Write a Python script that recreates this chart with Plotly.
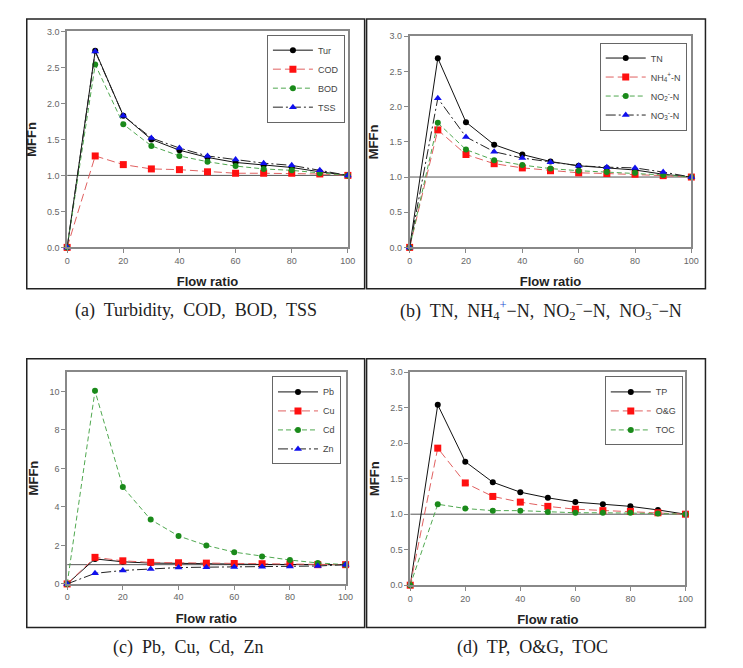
import plotly.graph_objects as go

# page body has an 8px default margin, so the figure is offset by 8px
OFF = 8
W, H = 743 - OFF, 668 - OFF


def fx(px):
    return (px - OFF) / W


def fy(py):
    return 1 - (py - OFF) / H


flow = [0, 10, 20, 30, 40, 50, 60, 70, 80, 90, 100]

# (a)
tur = [0, 2.73, 1.83, 1.50, 1.35, 1.25, 1.18, 1.14, 1.11, 1.05, 1.0]
cod = [0, 1.27, 1.15, 1.09, 1.08, 1.05, 1.03, 1.03, 1.03, 1.02, 1.0]
bod = [0, 2.54, 1.71, 1.41, 1.27, 1.19, 1.13, 1.09, 1.07, 1.03, 1.0]
tss = [0, 2.72, 1.83, 1.52, 1.38, 1.27, 1.22, 1.17, 1.14, 1.07, 1.0]
# (b)
tn = [0, 2.69, 1.78, 1.46, 1.32, 1.22, 1.16, 1.13, 1.10, 1.04, 1.0]
nh4 = [0, 1.67, 1.32, 1.19, 1.13, 1.09, 1.06, 1.05, 1.04, 1.02, 1.0]
no2 = [0, 1.77, 1.39, 1.24, 1.17, 1.12, 1.09, 1.07, 1.06, 1.03, 1.0]
no3 = [0, 2.12, 1.57, 1.36, 1.27, 1.21, 1.16, 1.14, 1.13, 1.07, 1.0]
# (c)
pb = [0, 1.30, 1.15, 1.08, 1.07, 1.04, 1.02, 1.01, 1.01, 1.0, 1.0]
cu = [0, 1.38, 1.20, 1.12, 1.10, 1.08, 1.06, 1.05, 1.04, 1.0, 1.0]
cd = [0, 10.03, 5.03, 3.34, 2.49, 2.0, 1.65, 1.43, 1.24, 1.09, 1.0]
zn = [0, 0.55, 0.70, 0.77, 0.85, 0.87, 0.88, 0.89, 0.90, 0.93, 1.0]
# (d)
tp = [0, 2.54, 1.74, 1.45, 1.31, 1.23, 1.17, 1.14, 1.11, 1.06, 1.0]
og = [0, 1.93, 1.44, 1.25, 1.17, 1.11, 1.07, 1.05, 1.04, 1.02, 1.0]
toc = [0, 1.14, 1.08, 1.05, 1.05, 1.03, 1.02, 1.02, 1.02, 1.01, 1.0]

x_ticks = [0, 20, 40, 60, 80, 100]

captions = [
    "(a)  Turbidity,  COD,  BOD,  TSS",
    "(b)  TN,  NH<sub>4</sub><sup><span style='color:#1f4fd0'>+</span></sup>−N,  NO<sub>2</sub><sup>−</sup>−N,  NO<sub>3</sub><sup>−</sup>−N",
    "(c)  Pb,  Cu,  Cd,  Zn",
    "(d)  TP,  O&amp;G,  TOC",
]

STYLES = [
    dict(line=dict(color="#111111", width=1, dash="solid"),
         marker=dict(symbol="circle", color="#000000", size=6)),
    dict(line=dict(color="#e06060", width=1, dash="8px,4px"),
         marker=dict(symbol="square", color="#ff1010", size=7)),
    dict(line=dict(color="#50a850", width=1, dash="5px,3px"),
         marker=dict(symbol="circle", color="#1a8a1a", size=6)),
    dict(line=dict(color="#222222", width=1, dash="10px,3px,2px,3px"),
         marker=dict(symbol="triangle-up", color="#1010ee", size=7)),
]

panels = [
    dict(series=[("Tur", tur), ("COD", cod), ("BOD", bod), ("TSS", tss)],
         styles=[0, 1, 2, 3], ymax=3, dtick=0.5, fmt=".1f",
         px=(65, 350, 26.7, 246), leg=(347, 30)),
    dict(series=[("TN", tn), ("NH<sub>4</sub><sup>+</sup>-N", nh4),
                 ("NO<sub>2</sub><sup>-</sup>-N", no2), ("NO<sub>3</sub><sup>-</sup>-N", no3)],
         styles=[0, 1, 2, 3], ymax=3, dtick=0.5, fmt=".1f",
         px=(412.7, 698.7, 31.7, 246), leg=(694, 38)),
    dict(series=[("Pb", pb), ("Cu", cu), ("Cd", cd), ("Zn", zn)],
         styles=[0, 1, 2, 3], ymax=11, dtick=2, fmt="d",
         px=(65, 347.7, 372.7, 587.7), leg=(343, 377)),
    dict(series=[("TP", tp), ("O&G", og), ("TOC", toc)],
         styles=[0, 1, 2], ymax=3, dtick=0.5, fmt=".1f",
         px=(413.3, 692.7, 372.7, 589), leg=(690, 377)),
]

fig = go.Figure()
layout = dict(width=W, height=H, margin=dict(l=0, r=0, t=0, b=0),
              paper_bgcolor="white", plot_bgcolor="white",
              font=dict(family="Arial, Liberation Sans, sans-serif", color="#333"),
              shapes=[], annotations=[])

for i, p in enumerate(panels):
    n = i + 1
    xa = "xaxis" if n == 1 else f"xaxis{n}"
    ya = "yaxis" if n == 1 else f"yaxis{n}"
    xr = "x" if n == 1 else f"x{n}"
    yr = "y" if n == 1 else f"y{n}"
    lg = "legend" if n == 1 else f"legend{n}"
    x0, x1, y0, y1 = p["px"]
    # reference line at MFFn = 1
    fig.add_trace(go.Scatter(x=[0, 100], y=[1, 1], mode="lines",
                             line=dict(color="#555", width=1), showlegend=False,
                             hoverinfo="skip", xaxis=xr, yaxis=yr))
    for (name, vals), si in zip(p["series"], p["styles"]):
        st = STYLES[si]
        fig.add_trace(go.Scatter(x=flow, y=vals, name=name, mode="lines+markers",
                                 line=st["line"], marker=st["marker"],
                                 cliponaxis=False, xaxis=xr, yaxis=yr, legend=lg))
    axcommon = dict(showline=True, linecolor="#888", linewidth=1.5, mirror=True,
                    showgrid=False, zeroline=False, ticks="outside", ticklen=4,
                    tickcolor="#888", tickfont=dict(size=9, color="#666"))
    layout[xa] = dict(axcommon, domain=[fx(x0), fx(x1)], range=[0, 100],
                      tickvals=x_ticks, anchor=yr,
                      title=dict(text="<b>Flow ratio</b>", font=dict(size=13, color="#222"),
                                 standoff=12))
    layout[ya] = dict(axcommon, domain=[fy(y1), fy(y0)], range=[0, p["ymax"]],
                      dtick=p["dtick"], tickformat=p["fmt"], anchor=xr,
                      title=dict(text="<b>MFFn</b>", font=dict(size=13, color="#222"),
                                 standoff=8))
    lx, ly = p["leg"]
    layout[lg] = dict(x=fx(lx), y=fy(ly), xanchor="right", yanchor="top",
                      bordercolor="#666", borderwidth=1, bgcolor="white",
                      font=dict(size=9, color="#444"), itemwidth=40,
                      tracegroupgap=0)

# panel boxes
boxes = [(24, 367, 14, 288), (369, 713, 14, 288), (24, 367, 359, 632), (369, 713, 359, 632)]
for bx0, bx1, by0, by1 in boxes:
    layout["shapes"].append(dict(type="rect", xref="paper", yref="paper",
                                 x0=fx(bx0), x1=fx(bx1), y0=fy(by1), y1=fy(by0),
                                 line=dict(color="#222", width=1.5)))

cap_pos = [(196, 310), (546, 310), (188, 652), (537, 652)]
for txt, (cx, cy) in zip(captions, cap_pos):
    layout["annotations"].append(dict(text=txt, x=fx(cx), y=fy(cy), xref="paper",
                                      yref="paper", showarrow=False, xanchor="center",
                                      yanchor="middle",
                                      font=dict(family="Liberation Serif, DejaVu Serif, serif",
                                                size=18, color="#222")))

fig.update_layout(**layout)
fig.write_html("out.html")
